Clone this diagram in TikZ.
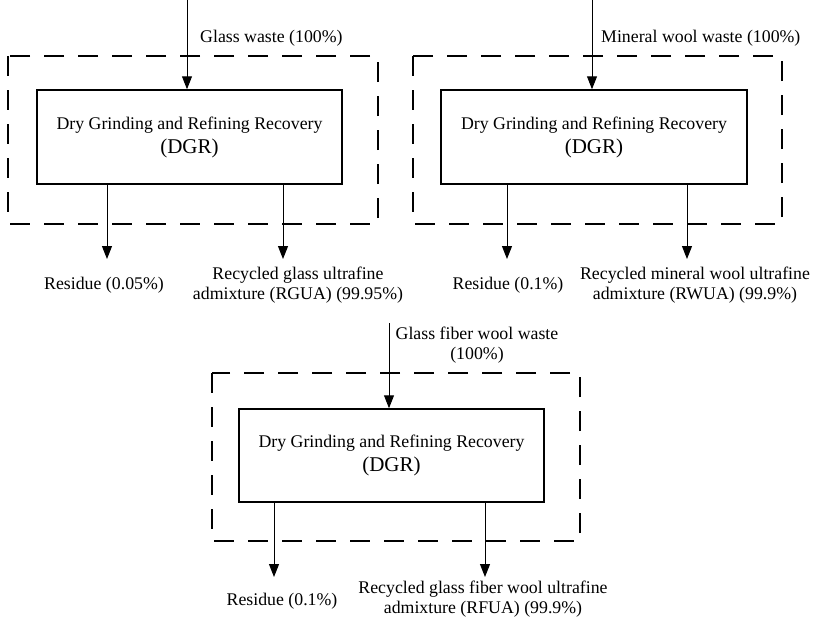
\documentclass[tikz,border=0pt]{standalone}
\usepackage{fontspec}
\setmainfont{Liberation Serif}
\usetikzlibrary{arrows.meta, positioning}
\tikzset{
flow/.style={-{Triangle[length=13pt,width=10pt]}, line width=1pt}, % directed material flows
dgr/.style={draw, line width=1.5pt, minimum width=305pt, minimum height=94pt, inner sep=0pt, align=center, font=\fontsize{17.8}{24}\selectfont}, % process box
envelope/.style={draw, line width=1.1pt, dash pattern=on 20pt off 14pt}, % system boundary
lbl/.style={inner sep=0pt, align=center, font=\fontsize{17.8}{20}\selectfont}, % stream labels
}

\begin{document}
\begin{tikzpicture}[x=1pt, y=-1pt]
    \useasboundingbox (0,0) rectangle (814,619);

    % system boundaries
    \draw[envelope] (8,56) rectangle (378,224);
    \draw[envelope] (413,56) rectangle (782,224);
    \draw[envelope] (212,373) rectangle (580,541);

    % process boxes
    \node[dgr] (dgr1) at (189.5,137) {Dry Grinding and Refining Recovery\\{\fontsize{21}{24}\selectfont (DGR)}};
    \node[dgr, minimum width=306pt] (dgr2) at (594,137) {Dry Grinding and Refining Recovery\\{\fontsize{21}{24}\selectfont (DGR)}};
    \node[dgr, minimum height=93pt] (dgr3) at (391.5,455.5) {Dry Grinding and Refining Recovery\\{\fontsize{21}{24}\selectfont (DGR)}};

    % inputs
    \coordinate (in1) at (187,0);
    \coordinate (in2) at (592,0);
    \coordinate (in3) at (389,323);
    \draw[flow] (in1) -- (in1 |- dgr1.north);
    \draw[flow] (in2) -- (in2 |- dgr2.north);
    \draw[flow] (in3) -- (in3 |- dgr3.north);
    \node[lbl, anchor=west] (w1) at (200,38) {Glass waste (100\%)};
    \node[lbl, anchor=west] (w2) at (601,38) {Mineral wool waste (100\%)};
    \node[lbl] (w3) at (477,345) {Glass fiber wool waste\\(100\%)};

    % outputs
    \coordinate (res1) at (107,259);
    \coordinate (prod1) at (283,259);
    \coordinate (res2) at (507,259);
    \coordinate (prod2) at (687,259);
    \coordinate (res3) at (274,577);
    \coordinate (prod3) at (485,577);
    \foreach \i in {1,2,3}{
        \draw[flow] (res\i |- dgr\i.south) -- (res\i);
        \draw[flow] (prod\i |- dgr\i.south) -- (prod\i);
    }
    \node[lbl] (r1) at (104,285) {Residue (0.05\%)};
    \node[lbl] (p1) at (298,285) {Recycled glass ultrafine\\admixture (RGUA) (99.95\%)};
    \node[lbl] (r2) at (508,285) {Residue (0.1\%)};
    \node[lbl] (p2) at (695,285) {Recycled mineral wool ultrafine\\admixture (RWUA) (99.9\%)};
    \node[lbl] (r3) at (282,601) {Residue (0.1\%)};
    \node[lbl] (p3) at (483,599) {Recycled glass fiber wool ultrafine\\admixture (RFUA) (99.9\%)};

\end{tikzpicture}
\end{document}
